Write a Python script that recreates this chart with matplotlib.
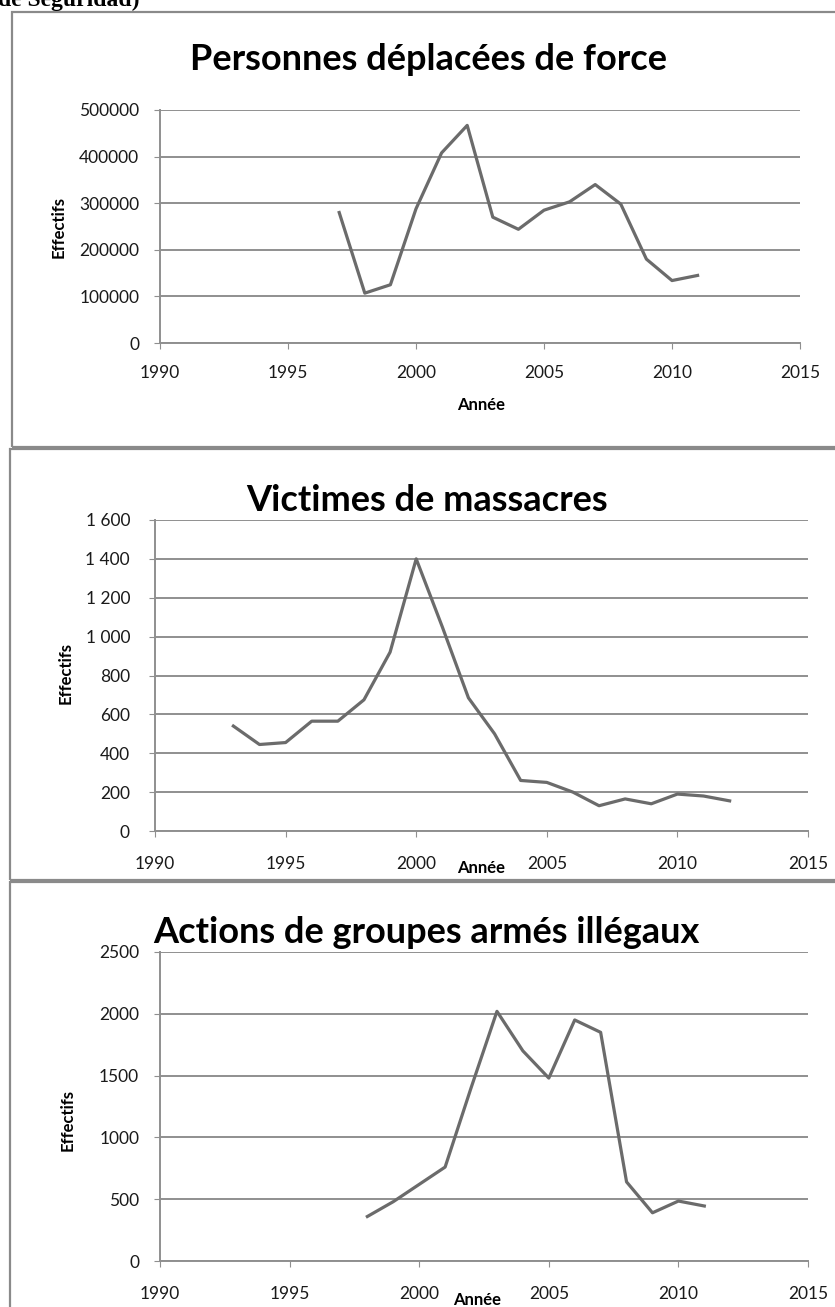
import matplotlib
matplotlib.use('Agg')
import matplotlib.pyplot as plt
import matplotlib.patches as patches

plt.rcParams['font.family'] = ['Lato', 'DejaVu Sans']

# data
years_dep = [1997, 1998, 1999, 2000, 2001, 2002, 2003, 2004, 2005, 2006, 2007, 2008, 2009, 2010, 2011]
deplaces = [280000, 107000, 125000, 288000, 408000, 467000, 270000, 244000, 285000, 303000, 340000, 298000, 180000, 134000, 145000]

years_mas = [1993, 1994, 1995, 1996, 1997, 1998, 1999, 2000, 2001, 2002, 2003, 2004, 2005, 2006, 2007, 2008, 2009, 2010, 2011, 2012]
massacres = [540, 445, 455, 565, 565, 675, 920, 1400, 1050, 685, 500, 260, 250, 200, 130, 165, 140, 190, 180, 155]

years_act = [1998, 1999, 2000, 2001, 2002, 2003, 2004, 2005, 2006, 2007, 2008, 2009, 2010, 2011]
actions = [360, 480, 620, 760, 1400, 2020, 1700, 1480, 1950, 1850, 640, 390, 485, 445]

xticks = [1990, 1995, 2000, 2005, 2010, 2015]
yticks1 = [0, 100000, 200000, 300000, 400000, 500000]
ylabels1 = ['0', '100000', '200000', '300000', '400000', '500000']
yticks2 = [0, 200, 400, 600, 800, 1000, 1200, 1400, 1600]
ylabels2 = ['0', '200', '400', '600', '800', '1 000', '1 200', '1 400', '1 600']
yticks3 = [0, 500, 1000, 1500, 2000, 2500]
ylabels3 = ['0', '500', '1000', '1500', '2000', '2500']

W, H = 835, 1307
fig = plt.figure(figsize=(W / 100, H / 100), dpi=100)
fig.patch.set_facecolor('white')

grid_c = '#8f8f8f'
line_c = '#6b6b6b'
text_c = '#1a1a1a'


def px_axes(x0, y0, x1, y1):
    # pixel box (top-left origin) -> figure axes
    return fig.add_axes([x0 / W, 1 - y1 / H, (x1 - x0) / W, (y1 - y0) / H])


def frame(x0, y0, x1, y1):
    r = patches.Rectangle((x0 / W, 1 - y1 / H), (x1 - x0) / W, (y1 - y0) / H,
                          transform=fig.transFigure, fill=False,
                          edgecolor='#8a8a8a', linewidth=1.6)
    fig.patches.append(r)


def style(ax, yt, yl, ymax, xpad, ypad):
    ax.set_xlim(1990, 2015)
    ax.set_ylim(0, ymax)
    ax.set_xticks(xticks)
    ax.set_xticklabels([str(v) for v in xticks], fontsize=12.5, color=text_c)
    ax.set_yticks(yt)
    ax.set_yticklabels(yl, fontsize=12.5, color=text_c)
    ax.yaxis.grid(True, color=grid_c, linewidth=1.4)
    ax.set_axisbelow(True)
    for s in ['top', 'right']:
        ax.spines[s].set_visible(False)
    for s in ['left', 'bottom']:
        ax.spines[s].set_color(grid_c)
        ax.spines[s].set_linewidth(1.4)
    ax.tick_params(axis='x', direction='out', length=4, color=grid_c, pad=xpad)
    ax.tick_params(axis='y', direction='out', length=4, color=grid_c, pad=ypad)
    ax.set_facecolor('none')


def title(x, y, s):
    fig.text(x / W, 1 - y / H, s, fontsize=26, fontweight='bold',
             ha='center', va='baseline', color='black')


def small(x, y, s, rot=0):
    fig.text(x / W, 1 - y / H, s, fontsize=12, fontweight='bold', rotation=rot,
             ha='center', va='center', color='black')


# panel frames
frame(12, 12, 840, 447)
frame(10, 449, 840, 880)
frame(10, 882, 840, 1320)

# cut off caption at the top
fig.text(-2 / W, 1 - 6 / H, 'de Seguridad)', family='Liberation Serif', fontweight='bold',
         fontsize=17, ha='left', va='baseline')

# panel 1
ax1 = px_axes(160, 110, 800, 343)
ax1.plot(years_dep, deplaces, color=line_c, linewidth=2.3)
style(ax1, yticks1, ylabels1, 500000, 12, 11)
title(428, 70, 'Personnes déplacées de force')
small(59, 227, 'Effectifs', 90)
small(481, 405, 'Année')

# panel 2
ax2 = px_axes(155, 520, 808, 831)
ax2.plot(years_mas, massacres, color=line_c, linewidth=2.3)
style(ax2, yticks2, ylabels2, 1600, 14, 14)
title(427, 511, 'Victimes de massacres')
small(66, 673, 'Effectifs', 90)
small(481, 868, 'Année')

# panel 3
ax3 = px_axes(160, 952, 808, 1261)
ax3.plot(years_act, actions, color=line_c, linewidth=2.3)
style(ax3, yticks3, ylabels3, 2500, 14, 11)
title(426, 943, 'Actions de groupes armés illégaux')
small(68, 1120, 'Effectifs', 90)
small(477, 1300, 'Année')

fig.savefig('out.png', dpi=100)
